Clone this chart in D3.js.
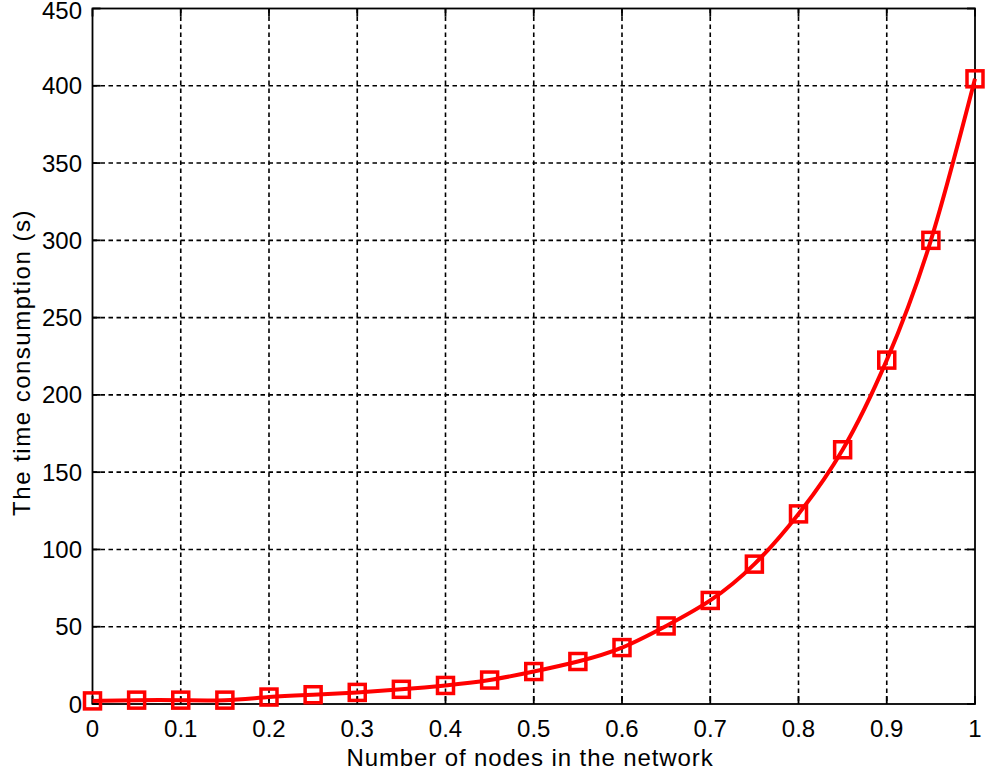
<!DOCTYPE html>
<html><head><meta charset="utf-8">
<script src="https://cdn.jsdelivr.net/npm/d3@7"></script>
<style>body{margin:0;background:#fff}svg{display:block}text{font-family:"Liberation Sans",Arial,sans-serif;fill:#000}</style>
</head><body>
<svg id="c" width="985" height="772"></svg>
<script>
const xValues = [0,0.05,0.1,0.15,0.2,0.25,0.3,0.35,0.4,0.45,0.5,0.55,0.6,0.65,0.7,0.75,0.8,0.85,0.9,0.95,1.0];
const timeValues = [2,2.5,2.5,2.5,4.5,6,7.5,9.5,12,15.5,21,27.5,36.5,50.5,67,90.5,123,164.5,222.5,300,404.5];
const xTicks = [0,0.1,0.2,0.3,0.4,0.5,0.6,0.7,0.8,0.9,1];
const yTicks = [0,50,100,150,200,250,300,350,400,450];
const xLabel = "Number of nodes in the network";
const yLabel = "The time consumption (s)";

const svg = d3.select("#c");
const L=92.5,R=975,T=8.5,B=704;
const x = d3.scaleLinear().domain([0,1]).range([L,R]);
const y = d3.scaleLinear().domain([0,450]).range([B,T]);
const fs = 24;

// grid
const g = svg.append("g");
g.selectAll(".gx").data(xTicks.slice(1,-1)).join("line")
 .attr("x1",d=>x(d)).attr("x2",d=>x(d)).attr("y1",T).attr("y2",B)
 .attr("stroke","#000").attr("stroke-width",1.6).attr("stroke-dasharray","4.5,3.5");
g.selectAll(".gy").data(yTicks.slice(1,-1)).join("line")
 .attr("y1",d=>y(d)).attr("y2",d=>y(d)).attr("x1",L).attr("x2",R)
 .attr("stroke","#000").attr("stroke-width",1.6).attr("stroke-dasharray","4.5,3.5");

// ticks inward on all four sides
const tl=8;
xTicks.forEach(d=>{
  svg.append("line").attr("x1",x(d)).attr("x2",x(d)).attr("y1",B).attr("y2",B-tl).attr("stroke","#000").attr("stroke-width",1.8);
  svg.append("line").attr("x1",x(d)).attr("x2",x(d)).attr("y1",T).attr("y2",T+tl).attr("stroke","#000").attr("stroke-width",1.8);
});
yTicks.forEach(d=>{
  svg.append("line").attr("y1",y(d)).attr("y2",y(d)).attr("x1",L).attr("x2",L+tl).attr("stroke","#000").attr("stroke-width",1.8);
  svg.append("line").attr("y1",y(d)).attr("y2",y(d)).attr("x1",R).attr("x2",R-tl).attr("stroke","#000").attr("stroke-width",1.8);
});
svg.append("rect").attr("x",L).attr("y",T).attr("width",R-L).attr("height",B-T)
 .attr("fill","none").attr("stroke","#000").attr("stroke-width",1.8);

// tick labels
svg.selectAll(".xl").data(xTicks).join("text")
 .attr("x",d=>x(d)).attr("y",737).attr("text-anchor","middle").attr("font-size",fs)
 .text(d=>d3.format("")(d));
svg.selectAll(".yl").data(yTicks).join("text")
 .attr("x",82).attr("y",d=>Math.max(y(d)+8.5,19)).attr("text-anchor","end").attr("font-size",fs)
 .text(d=>d);

svg.append("text").attr("x",530).attr("y",766).attr("text-anchor","middle").attr("font-size",24)
 .attr("letter-spacing","0.9px").text(xLabel);
svg.append("text").attr("transform",`translate(30,362.5) rotate(-90)`).attr("text-anchor","middle").attr("font-size",24)
 .attr("letter-spacing","1.5px").text(yLabel);

// data
const data = xValues.map((v,i)=>({x:v,y:timeValues[i]}));
svg.append("path").datum(data)
 .attr("d",d3.line().x(d=>x(d.x)).y(d=>y(d.y)).curve(d3.curveNatural))
 .attr("fill","none").attr("stroke","#ff0000").attr("stroke-width",4);
const ms=16;
svg.selectAll(".m").data(data).join("rect")
 .attr("x",d=>x(d.x)-ms/2).attr("y",d=>y(d.y)-ms/2).attr("width",ms).attr("height",ms)
 .attr("fill","none").attr("stroke","#ff0000").attr("stroke-width",3.5);
</script>
</body></html>
